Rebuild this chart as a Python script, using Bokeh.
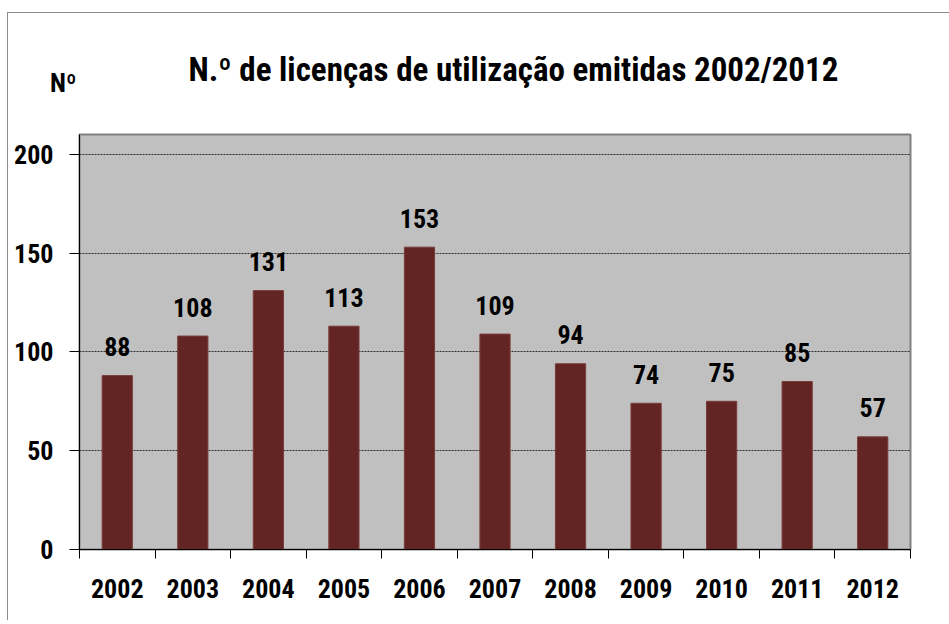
from bokeh.plotting import figure
from bokeh.models import Range1d, FixedTicker, ColumnDataSource, Legend, LegendItem
from bokeh.core.properties import value
from bokeh.embed import file_html
from bokeh.resources import INLINE

years = ["2002", "2003", "2004", "2005", "2006", "2007", "2008", "2009", "2010", "2011", "2012"]
licences = [88, 108, 131, 113, 153, 109, 94, 74, 75, 85, 57]
y_ticks = [0, 50, 100, 150, 200]
title_text = "N.º de licenças de utilização emitidas 2002/2012"
y_title = "Nº"

FONT = "'Liberation Sans Narrow', 'Roboto Condensed', 'DejaVu Sans Condensed', 'Open Sans Condensed', sans-serif"
positions = list(range(1, len(years) + 1))

src = ColumnDataSource(dict(x=positions, top=licences, lab=[str(v) for v in licences]))

p = figure(frame_width=831, frame_height=415,
           x_range=Range1d(0.5, len(years) + 0.5), y_range=Range1d(0, 210),
           output_backend="svg", toolbar_location=None,
           min_border_left=79, min_border_right=35, min_border_top=134, min_border_bottom=71,
           background_fill_color="#C0C0C0", border_fill_color=None)
# outer chart-area border (top and left edges)
p.styles = {"background-image": "linear-gradient(#8c8c8c,#8c8c8c), linear-gradient(#8c8c8c,#8c8c8c)",
            "background-size": "1px 100%, 100% 1px",
            "background-position": "7px 12px, 7px 12px",
            "background-repeat": "no-repeat"}
p.outline_line_color = "#808080"
p.outline_line_width = 2

p.vbar(x="x", top="top", width=0.4, source=src, fill_color="#632523", line_color="#7a3c3a", line_width=1)
p.text(x="x", y="top", text="lab", source=src, y_offset=-29,
       text_align="center", text_baseline="alphabetic",
       text_font=value(FONT), text_font_style="bold", text_font_size="26px", text_color="black")

# axes
xa = p.xaxis[0]
xa.ticker = FixedTicker(ticks=positions, minor_ticks=[i + 0.5 for i in range(0, len(years) + 1)])
xa.major_label_overrides = {i: y for i, y in zip(positions, years)}
xa.major_tick_line_color = None
xa.major_tick_in = 0
xa.major_tick_out = 0
xa.minor_tick_in = 0
xa.minor_tick_out = 9
xa.minor_tick_line_color = "black"
xa.axis_line_color = "black"
xa.major_label_standoff = 20
xa.major_label_text_font = FONT
xa.major_label_text_font_style = "bold"
xa.major_label_text_font_size = "26px"
xa.major_label_text_color = "black"

ya = p.yaxis[0]
ya.ticker = FixedTicker(ticks=y_ticks)
ya.major_tick_in = 0
ya.major_tick_out = 10
ya.minor_tick_line_color = None
ya.axis_line_color = "black"
ya.major_tick_line_color = "black"
ya.major_label_standoff = 16
ya.major_label_text_font = FONT
ya.major_label_text_font_style = "bold"
ya.major_label_text_font_size = "26px"
ya.major_label_text_color = "black"

p.xgrid.grid_line_color = None
p.ygrid.ticker = FixedTicker(ticks=y_ticks[1:])
p.ygrid.grid_line_color = "#303030"
p.ygrid.grid_line_dash = "2 1"
p.ygrid.grid_line_width = 1

# chart title
p.title.text = title_text
p.title.align = "left"
p.title.offset = 109
p.title.standoff = 92
p.title.vertical_align = "bottom"
p.title.text_font = FONT
p.title.text_font_style = "bold"
p.title.text_font_size = "33px"
p.title.text_color = "black"

# "Nº" unit label, placed in a side panel so it is not clipped to the plot area
leg = Legend(items=[LegendItem(label=y_title, renderers=[])], location=(-1360, 216),
             padding=0, margin=0, spacing=0, glyph_width=0, glyph_height=0,
             label_standoff=0, label_width=0, label_height=0,
             background_fill_alpha=0, border_line_color=None,
             label_text_font=FONT, label_text_font_style="bold", label_text_font_size="26px",
             label_text_color="black", label_text_baseline="middle")
p.add_layout(leg, "right")

open("out.html", "w").write(file_html(p, INLINE))
